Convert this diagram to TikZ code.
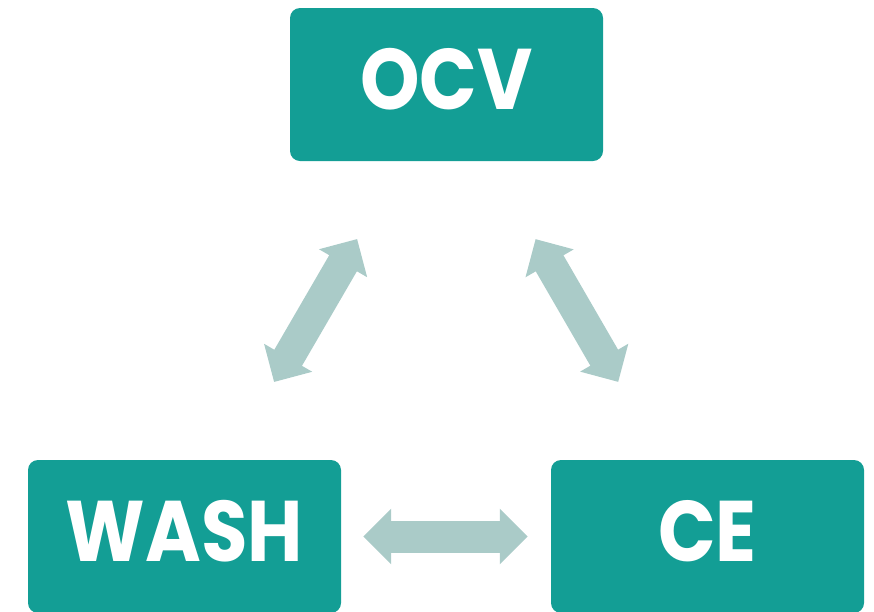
\documentclass[tikz,border=0pt]{standalone}
\usepackage{fontspec}
\newfontfamily\boxfont{Poppins}[FakeStretch=0.88]
\usetikzlibrary{arrows.meta}
\definecolor{boxteal}{HTML}{139E95}
\definecolor{arrowgrey}{HTML}{AACBC8}

\begin{document}
\begin{tikzpicture}[x=1pt,y=-1pt,
        stage/.style={fill=boxteal,rounded corners=10pt,minimum width=313pt,minimum height=153pt,inner sep=0pt,
            text=white,font=\boxfont\bfseries\fontsize{86}{90}\selectfont,text depth=12pt},
        link/.style={draw=arrowgrey,line width=32pt,{Triangle[length=28pt,width=54pt]}-{Triangle[length=28pt,width=54pt]}}]
        \useasboundingbox (0,0) rectangle (874,611);
        \node[stage] (ocv) at (446.5,84.5) {OCV};
        \node[stage] (wash) at (184.5,536.5) {WASH};
        \node[stage] (ce) at (707.5,536.5) {CE};
        \draw[link,shorten <=22pt,shorten >=23pt] (wash) -- (ce);
        \draw[link,shorten <=90pt,shorten >=90pt] (wash) -- (ocv);
        \draw[link,shorten <=90pt,shorten >=90pt] (ce) -- (ocv);
    \end{tikzpicture}
\end{document}
